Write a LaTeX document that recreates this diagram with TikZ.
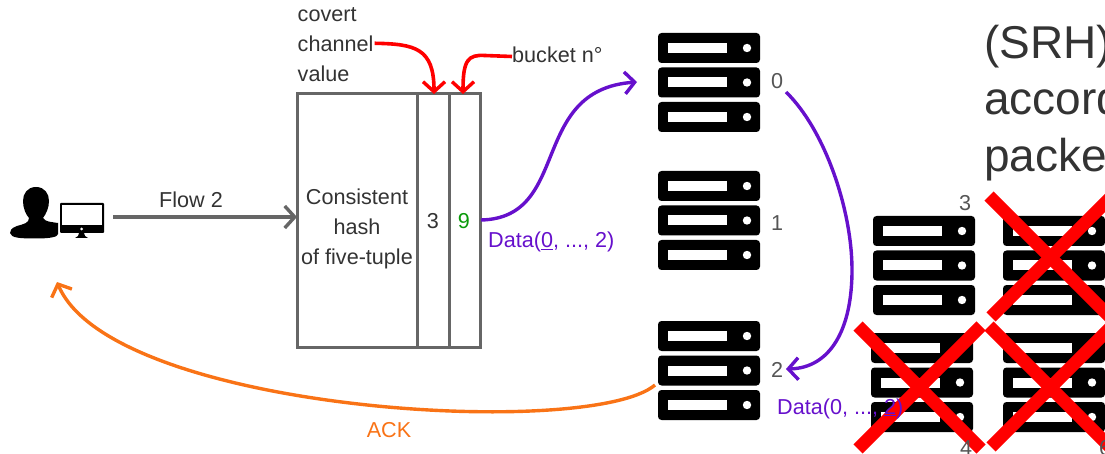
\documentclass[tikz,border=0pt]{standalone}
\usepackage{fontspec}
\setmainfont{Liberation Sans}
\usetikzlibrary{arrows.meta}
\definecolor{boxgray}{HTML}{666666}
\definecolor{txt}{HTML}{333333}
\definecolor{numgray}{HTML}{555555}
\definecolor{purp}{HTML}{6610CC}
\definecolor{orng}{HTML}{F97316}
\definecolor{grn}{HTML}{0A9A0A}
\tikzset{
  lbl/.style={inner sep=0pt,anchor=base west,font=\fontsize{21.6}{25}\selectfont,text=txt},
  big/.style={inner sep=0pt,anchor=base west,font=\fontsize{46}{50}\selectfont,text=txt},
  num/.style={inner sep=0pt,anchor=base,font=\fontsize{21.6}{25}\selectfont,text=numgray},
  barb/.style={-{Straight Barb[length=10pt,width=22pt,line width=3.4pt]}},
  flowline/.style={line width=3.2pt,boxgray,barb},
  purpline/.style={line width=3.4pt,purp,barb},
  orngline/.style={line width=3.4pt,orng,barb},
  redline/.style={line width=3.6pt,red,barb},
  cross/.style={line width=13pt,red},
  anchorbox/.style={inner sep=0pt,outer sep=0pt,minimum width=102pt,minimum height=99pt,anchor=north west}
}
\newcommand{\rackrow}[3]{%
  \fill[black,rounded corners=3.5pt] (#1,#2) rectangle ++(#3,30);
  \fill[white] (#1+10,#2+10) rectangle ++(59,10);
  \fill[white] (#1+#3-13,#2+15) circle (4.2);
}
\newcommand{\rack}[3]{%
  \node[anchorbox] (#3) at (#1,#2) {};
  \rackrow{#1}{#2}{102}
  \rackrow{#1}{#2+34.5}{102}
  \rackrow{#1}{#2+69}{102}
}
\begin{document}
\begin{tikzpicture}[x=1pt,y=-1pt]
\useasboundingbox (0,0) rectangle (1105,454);
\clip (0,0) rectangle (1105,454);
% slide text behind
\node[big] (t1) at (984,59) {(SRH)};
\node[big] (t2) at (984,115) {according};
\node[big] (t3) at (984,172) {packet};
% servers
\rack{658}{33}{s0}
\rack{658}{171}{s1}
\rack{658}{321}{s2}
\rack{873}{216}{s3}
\rack{871}{333}{s4}
\rack{1003}{216}{s5}
\rack{1003}{333}{s6}
% crosses
\draw[cross] (858,326) -- (981,449);
\draw[cross] (981,326) -- (858,449);
\draw[cross] (989,196) -- (1112,319);
\draw[cross] (1112,196) -- (991,317);
\draw[cross] (989,326) -- (1112,449);
\draw[cross] (1112,326) -- (991,447);
% user
\fill[black] (36,187) .. controls (27,187) and (23,194) .. (23,201)
  .. controls (23,208) and (26,215) .. (29,218) .. controls (29,223) and (24,224) .. (17,226)
  .. controls (11,228) and (10,231) .. (10,233) .. controls (11,238) and (20,238.5) .. (36,238.5)
  .. controls (50,238.5) and (58,237) .. (58,234) -- (58,223) .. controls (52,222) and (45,222) .. (43,218)
  .. controls (46,214) and (49,208) .. (49,201) .. controls (49,194) and (45,187) .. (36,187) -- cycle;
\node[inner sep=0pt,outer sep=0pt,minimum width=44pt,minimum height=35pt,anchor=north west] (pc) at (60,203) {};
\fill[black,rounded corners=1pt] (60,203) rectangle (104,233);
\fill[white] (62,205) rectangle (102,225);
\fill[white] (81.7,229) circle (1.5);
\fill[black] (79,233) -- (84,233) -- (85,236) -- (88,238) -- (75,238) -- (78,236) -- cycle;
% hash box
\node[draw=boxgray,line width=3pt,inner sep=0pt,outer sep=0pt,minimum width=183pt,minimum height=253pt,anchor=north west] (hash) at (297,94) {};
\coordinate (d1t) at (417,94); \coordinate (d1b) at (417,347);
\coordinate (d2t) at (449,94); \coordinate (d2b) at (449,347);
\draw[line width=3pt,boxgray] (d1t) -- (d1b);
\draw[line width=3pt,boxgray] (d2t) -- (d2b);
\node[lbl,anchor=base] (c1) at (357,205) {Consistent};
\node[lbl,anchor=base] (c2) at (357,235) {hash};
\node[lbl,anchor=base] (c3) at (357,265) {of five-tuple};
\node[num,text=txt] (n3) at (433,229) {3};
\node[num,text=grn] (n9) at (464,229) {9};
% top labels
\node[lbl] (cov1) at (297.5,22) {covert};
\node[lbl] (cov2) at (297.5,51.5) {channel};
\node[lbl] (cov3) at (297.5,81.5) {value};
\node[lbl] (bkt) at (512,62.5) {bucket n°};
\coordinate (ct) at (434,94);
\coordinate (bt) at (463,94);
\draw[redline] (cov2.east) ++(1,-0.5) .. controls (415,44) and (434,48) .. (ct);
\coordinate (bm) at (485,55.5);
\draw[red,line width=3.6pt] (bkt.west |- 0,56.5) -- (bm);
\draw[redline] (bm) .. controls (468,54.5) and (463,60) .. (bt);
% flow
\node[lbl,anchor=base] (flow) at (191,208) {Flow 2};
\coordinate (hl) at (297,217);
\draw[flowline] (pc.east |- 0,217) ++(9,0) -- (hl);
% numbers
\node[num] (n0) at (777,89) {0};
\node[num] (n1) at (777,231) {1};
\node[num] (n2) at (777,377) {2};
\node[num] (n3b) at (965,211) {3};
\node[num] (n4) at (966,455) {4};
\node[num] (n6) at (1105,455) {6};
% purple
\coordinate (p0s) at (481,220);
\coordinate (p0e) at (637,82);
\draw[purpline] (p0s) .. controls (572,218) and (528,90) .. (p0e);
\coordinate (p1s) at (786,92);
\coordinate (p1e) at (786,369);
\draw[purpline] (p1s) .. controls (825,130) and (852,210) .. (852,270) .. controls (852,330) and (830,368) .. (p1e);
\node[lbl,text=purp] (d1) at (488,248) {Data(\underline{0}, ..., 2)};
\node[lbl,text=purp] (d2) at (777,414) {Data(0, ..., \underline{2})};
% ack
\coordinate (as) at (655,385);
\coordinate (ae) at (57,282);
\draw[orngline] (as) .. controls (590,440) and (112,412) .. (ae);
\node[lbl,anchor=base,text=orng] (ack) at (389,437) {ACK};
\end{tikzpicture}
\end{document}
